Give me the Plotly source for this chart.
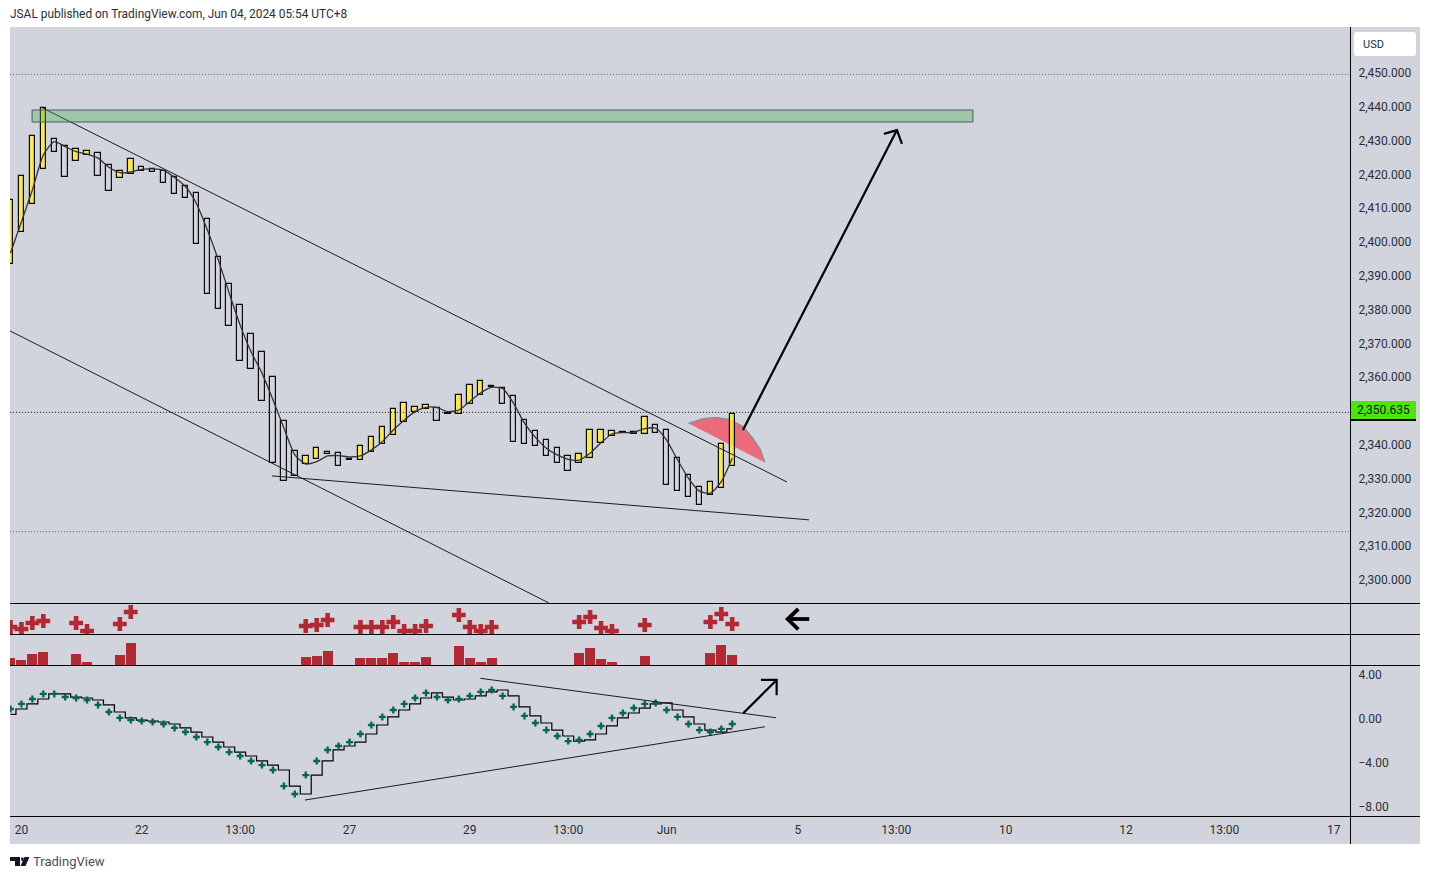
import plotly.graph_objects as go

W, H = 1430, 879

# ---------- data ----------
candle_open = [
    2393.5, 2402.9, 2411.2, 2421.5, 2430.4, 2428.5, 2423.9, 2425.8, 2426.4, 2422.9,
    2418.9, 2420.0, 2422.3, 2421.7, 2421.1, 2419.3, 2416.7, 2414.6, 2406.9, 2395.7,
    2387.7, 2381.4, 2372.9, 2367.5, 2360.1, 2347.1, 2338.3, 2334.4, 2335.7, 2337.4,
    2337.7, 2335.4, 2335.4, 2337.8, 2340.1, 2342.8, 2346.7, 2349.6, 2350.5, 2351.0,
    2349.3, 2349.0, 2352.0, 2354.6, 2357.0, 2356.9, 2354.5, 2347.4, 2344.0, 2341.5,
    2339.1, 2336.8, 2334.5, 2336.0, 2340.4, 2342.5, 2343.4, 2343.3, 2343.1, 2345.8,
    2344.5, 2336.2, 2331.2, 2327.6, 2325.1, 2327.1, 2333.6,
]
candle_close = [
    2412.4, 2419.6, 2431.4, 2439.6, 2426.5, 2419.1, 2427.6, 2427.0, 2419.4, 2415.0,
    2421.1, 2424.6, 2420.9, 2420.6, 2417.4, 2414.1, 2412.9, 2399.3, 2384.5, 2380.1,
    2375.1, 2364.7, 2362.3, 2352.9, 2334.5, 2329.2, 2330.7, 2336.8, 2339.1, 2337.8,
    2333.6, 2335.8, 2339.7, 2342.4, 2345.4, 2350.7, 2352.5, 2351.3, 2351.7, 2347.0,
    2349.1, 2354.8, 2357.6, 2359.0, 2357.4, 2352.0, 2340.7, 2340.1, 2339.6, 2336.6,
    2334.5, 2332.2, 2337.4, 2344.5, 2344.5, 2344.2, 2343.8, 2343.7, 2348.3, 2343.4,
    2328.0, 2326.2, 2324.5, 2322.1, 2329.1, 2340.3, 2349.2,
]
moving_average = [
    2396.7, 2406.0, 2415.4, 2425.7, 2429.7, 2428.2, 2426.7, 2426.0, 2424.8, 2422.1,
    2420.5, 2420.7, 2421.5, 2421.6, 2421.2, 2419.1, 2416.4, 2411.4, 2403.6, 2394.7,
    2384.9, 2375.4, 2367.5, 2361.2, 2353.3, 2345.0, 2337.0, 2334.3, 2335.0, 2336.7,
    2336.8, 2336.4, 2336.7, 2338.5, 2340.9, 2344.4, 2347.3, 2349.8, 2351.1, 2351.0,
    2349.8, 2350.3, 2352.8, 2355.4, 2357.0, 2356.7, 2352.3, 2346.4, 2342.2, 2339.0,
    2337.0, 2335.7, 2335.5, 2337.5, 2340.6, 2343.2, 2343.6, 2343.7, 2344.8, 2344.9,
    2341.4, 2335.5, 2330.1, 2326.3, 2325.7, 2329.1, 2336.0,
]
signal_bars = [0, 1, 2, 3, 6, 7, 10, 11, 27, 28, 29, 32, 33, 34, 35, 36, 37, 38,
               41, 42, 43, 44, 52, 53, 54, 55, 58, 64, 65, 66]
signal_values = [7, 5, 11, 13, 11, 3, 10, 22, 8, 9, 14, 7, 7, 7, 12, 3, 3, 8,
                 19, 7, 3, 7, 12, 17, 6, 3, 9, 12, 20, 10]
oscillator = [
    0.86, 1.32, 1.77, 2.23, 2.23, 1.95, 1.86, 1.68, 1.23, 0.59,
    0.05, -0.14, -0.23, -0.32, -0.50, -0.86, -1.23, -1.68, -2.14, -2.59,
    -3.05, -3.41, -3.86, -4.23, -4.68, -6.14, -6.86, -5.14, -3.86, -2.86,
    -2.50, -2.14, -1.41, -0.59, 0.14, 0.77, 1.32, 1.86, 2.32, 1.95,
    1.68, 1.77, 2.05, 2.41, 2.59, 2.05, 1.05, 0.23, -0.41, -1.05,
    -1.59, -2.05, -1.95, -1.41, -0.68, 0.05, 0.50, 0.95, 1.32, 1.41,
    0.77, 0.14, -0.50, -1.05, -1.23, -0.95, -0.50,
]
oscillator_step = [0.38] + oscillator[:-1]

price_ticks = [2450, 2440, 2430, 2420, 2410, 2400, 2390, 2380, 2370, 2360,
               2340, 2330, 2320, 2310, 2300]
osc_ticks = [4, 0, -4, -8]
time_tick_bars = [1, 12, 21, 31, 42, 51, 60, 72, 81, 91, 102, 111, 121]
time_tick_text = ["20", "22", "13:00", "27", "29", "13:00", "Jun", "5", "13:00",
                  "10", "12", "13:00", "17"]

levels = [2449.6, 2349.6, 2314.3]

box_x, box_y = [1.97, 88.01], [2435.5, 2439.05]
upper_x, upper_y = [2.79, 71.0], [2439.9, 2329.0]
lower_x, lower_y = [-0.05, 49.24], [2373.7, 2293.2]
support_x, support_y = [23.91, 73.02], [2330.8, 2317.8]
arrow_x, arrow_y = [66.98, 81.06], [2344.4, 2433.1]
head_x, head_y = [79.87, 81.06, 81.52], [2432.0, 2433.1, 2429.0]
arc_x = [61.98, 63.35, 64.58, 65.79, 67.01, 67.92, 68.6, 68.99]
arc_y = [2346.4, 2347.8, 2348.1, 2347.5, 2345.4, 2341.9, 2338.5, 2334.8]

left_arrow_x, left_arrow_y = [72.04, 71.07, 72.04], [25, 15, 4.7]
left_tail_x, left_tail_y = [71.07, 73.04], [15, 15]

osc_top_x, osc_top_y = [42.96, 70.0], [3.65, 0.07]
osc_bot_x, osc_bot_y = [26.93, 68.99], [-7.41, -0.75]
osc_arrow_x, osc_arrow_y = [67.0, 70.06], [0.47, 3.5]
osc_head_x, osc_head_y = [68.63, 70.06, 70.06], [3.5, 3.5, 2.11]

# ---------- styles ----------
BG = "#d1d4dc"
YELLOW = "rgba(255,235,59,0.88)"
RED = "#b22833"
GREEN = "#056656"
TXT = "#2a2e39"
FONT = "Roboto, 'Liberation Sans', sans-serif"


def px(x):
    return x / W


def py(y):
    return 1 - y / H


idx = list(range(len(candle_open)))
is_up = [c >= o for o, c in zip(candle_open, candle_close)]
low = [min(o, c) for o, c in zip(candle_open, candle_close)]
span = [abs(c - o) for o, c in zip(candle_open, candle_close)]

fig = go.Figure()

# candles
fig.add_trace(go.Bar(
    x=idx, y=span, base=low, width=0.5, yaxis="y",
    marker=dict(color=[YELLOW if u else "rgba(0,0,0,0)" for u in is_up],
                line=dict(color="#0a0a0a", width=1.2)),
))
# lower-pane bars
fig.add_trace(go.Bar(
    x=signal_bars, y=signal_values, width=0.91, yaxis="y3",
    marker=dict(color=RED, line=dict(width=0)),
))


def line(x, y, axis="y", width=1.0, color="#1c1c1c", **kw):
    fig.add_trace(go.Scatter(x=x, y=y, yaxis=axis, mode="lines",
                             line=dict(color=color, width=width, **kw)))


# dotted price levels
for lv, col in zip(levels, ["#555a63", "#111111", "#555a63"]):
    line([-0.05, 122.5], [lv, lv], color=col, width=1, dash="1px,2px")

line(idx, moving_average, color="#333333", width=1.3, shape="spline", smoothing=0.6)
line(upper_x, upper_y)
line(lower_x, lower_y)
line(support_x, support_y)
line(arrow_x, arrow_y, width=2.2, color="#000000")
line(head_x, head_y, width=2.2, color="#000000")

# green zone
fig.add_trace(go.Scatter(
    x=[box_x[0], box_x[1], box_x[1], box_x[0], box_x[0]],
    y=[box_y[0], box_y[0], box_y[1], box_y[1], box_y[0]],
    mode="lines", fill="toself", fillcolor="rgba(76,175,80,0.36)",
    line=dict(color="#4c5a60", width=1), yaxis="y",
))

# crosses pane
fig.add_trace(go.Scatter(
    x=signal_bars, y=signal_values, mode="markers", yaxis="y2",
    marker=dict(symbol="cross", size=11.5, color=RED, line=dict(width=0)),
))
line(left_tail_x, left_tail_y, axis="y2", width=3.8, color="#000000")
line(left_arrow_x, left_arrow_y, axis="y2", width=3.8, color="#000000")

# oscillator pane
line(idx, oscillator_step, axis="y4", width=1.2, color="#000000", shape="hvh")
fig.add_trace(go.Scatter(
    x=idx, y=oscillator, mode="markers", yaxis="y4",
    marker=dict(symbol="cross", size=5.8, color=GREEN, line=dict(width=0)),
))
line(osc_top_x, osc_top_y, axis="y4")
line(osc_bot_x, osc_bot_y, axis="y4")
line(osc_arrow_x, osc_arrow_y, axis="y4", width=2.2, color="#000000")
line(osc_head_x, osc_head_y, axis="y4", width=2.2, color="#000000")

# ---------- chrome ----------
shapes = [
    dict(type="rect", xref="paper", yref="paper", layer="below",
         x0=px(10), x1=px(1420), y0=py(844), y1=py(27),
         fillcolor=BG, line=dict(width=0)),
    # arc (below the candles)
    dict(type="path", xref="x", yref="y", layer="below",
         path="M" + " L".join(f"{a},{b}" for a, b in zip(arc_x, arc_y)) + " Z",
         fillcolor="#ec6a79", line=dict(width=0)),
    dict(type="path", xref="x", yref="y", layer="below",
         path="M" + " L".join(f"{a},{b}" for a, b in zip(arc_x, arc_y)),
         fillcolor="rgba(0,0,0,0)", line=dict(color="#5f9c9c", width=1)),
]
for yy in (603, 634, 665, 816):
    shapes.append(dict(type="line", xref="paper", yref="paper",
                       x0=px(10), x1=px(1420), y0=py(yy + 0.5), y1=py(yy + 0.5),
                       line=dict(color="#000000", width=1)))
shapes.append(dict(type="line", xref="paper", yref="paper",
                   x0=px(1350.5), x1=px(1350.5), y0=py(27), y1=py(844),
                   line=dict(color="#000000", width=1)))


def rounded(x0, y0, x1, y1, r):
    return (f"M{px(x0 + r)},{py(y0)} L{px(x1 - r)},{py(y0)} Q{px(x1)},{py(y0)} {px(x1)},{py(y0 + r)} "
            f"L{px(x1)},{py(y1 - r)} Q{px(x1)},{py(y1)} {px(x1 - r)},{py(y1)} "
            f"L{px(x0 + r)},{py(y1)} Q{px(x0)},{py(y1)} {px(x0)},{py(y1 - r)} "
            f"L{px(x0)},{py(y0 + r)} Q{px(x0)},{py(y0)} {px(x0 + r)},{py(y0)} Z")


shapes.append(dict(type="path", xref="paper", yref="paper",
                   path=rounded(1354, 32, 1416, 56, 3), fillcolor="#ffffff",
                   line=dict(width=0)))
# price tag
shapes.append(dict(type="rect", xref="paper", yref="paper",
                   x0=px(1351), x1=px(1416), y0=py(421), y1=py(419),
                   fillcolor="#000000", line=dict(width=0)))
shapes.append(dict(type="rect", xref="paper", yref="paper",
                   x0=px(1351), x1=px(1416), y0=py(419), y1=py(401),
                   fillcolor="#4be60a", line=dict(width=0)))
# logo
logo = [
    f"M{px(10)},{py(857)} L{px(20)},{py(857)} L{px(20)},{py(866)} L{px(15)},{py(866)} L{px(15)},{py(861)} L{px(10)},{py(861)} Z",
    f"M{px(29.5)},{py(857)} L{px(25.5)},{py(866)} L{px(20.5)},{py(866)} L{px(24.5)},{py(857)} Z",
    f"M{px(21.2)},{py(857.5)} L{px(23.5)},{py(857.5)} L{px(23.5)},{py(860.8)} L{px(21.2)},{py(860.8)} Z",
]
for p in logo:
    shapes.append(dict(type="path", xref="paper", yref="paper", path=p,
                       fillcolor="#131722", line=dict(width=0)))


def note(x, y, text, size=12, color=TXT):
    return dict(xref="paper", yref="paper", x=px(x - 2), y=py(y), text=text,
                xanchor="left", yanchor="middle", showarrow=False,
                font=dict(family=FONT, size=size, color=color))


annotations = [
    note(10, 14.5, "JSAL published on TradingView.com, Jun 04, 2024 05:54 UTC+8", size=11.9),
    note(33, 861, "TradingView", size=13, color="#4a4e59"),
    note(1363, 44.5, "USD", size=11),
    note(1357, 410, "2,350.635", size=12, color="#131722"),
]

axis_y = dict(side="right", anchor="x", showgrid=False, zeroline=False, showline=False,
              ticks="outside", ticklen=5, tickcolor="rgba(0,0,0,0)",
              tickfont=dict(family=FONT, size=12, color=TXT))

fig.update_layout(
    width=W, height=H, autosize=False,
    margin=dict(l=0, r=0, t=0, b=0),
    paper_bgcolor="#ffffff", plot_bgcolor="rgba(0,0,0,0)",
    showlegend=False, barmode="overlay", bargap=0,
    hovermode=False,
    xaxis=dict(domain=[px(10), px(1350)], range=[-0.046, 122.49], anchor="y4",
               showgrid=False, zeroline=False, showline=False,
               tickmode="array", tickvals=time_tick_bars, ticktext=time_tick_text,
               ticks="outside", ticklen=3, tickcolor="rgba(0,0,0,0)",
               tickfont=dict(family=FONT, size=12, color=TXT)),
    yaxis=dict(domain=[py(603), py(27)], range=[2293.2, 2463.6],
               tickmode="array", tickvals=price_ticks, tickformat=",.3f", **axis_y),
    yaxis2=dict(domain=[py(634), py(603)], range=[0, 31], showticklabels=False,
                side="right", anchor="x", showgrid=False, zeroline=False, ticks=""),
    yaxis3=dict(domain=[py(665), py(634)], range=[0, 31], showticklabels=False,
                side="right", anchor="x", showgrid=False, zeroline=False, ticks=""),
    yaxis4=dict(domain=[py(816), py(665)], range=[-8.86, 4.86],
                tickmode="array", tickvals=osc_ticks, tickformat=".2f", **axis_y),
    shapes=shapes,
    annotations=annotations,
)

fig.write_html("out.html", config=dict(displayModeBar=False),
               post_script="document.body.style.margin='0';document.body.style.overflow='hidden';")
